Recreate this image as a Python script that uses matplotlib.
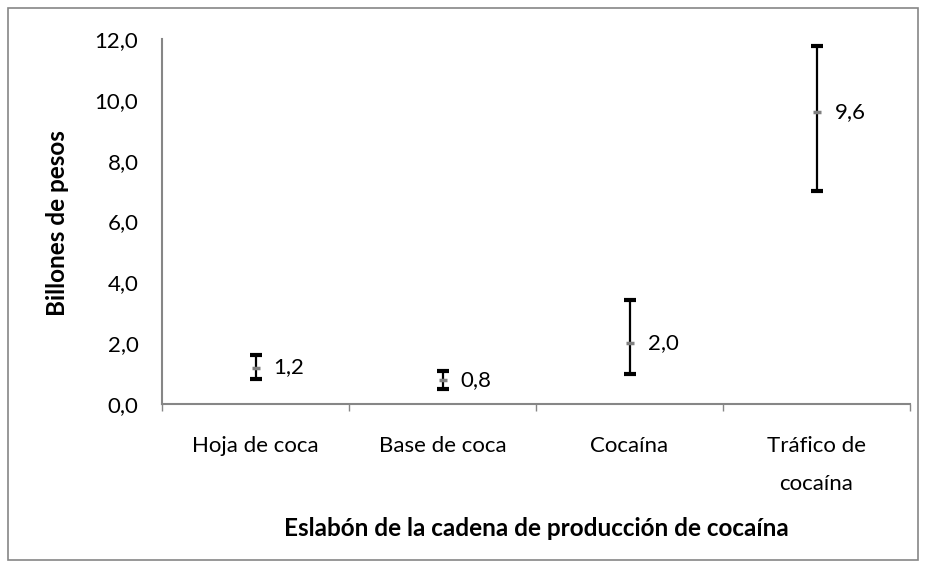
import numpy as np
import matplotlib.pyplot as plt
from matplotlib.patches import Rectangle

categorias = ["Hoja de coca", "Base de coca", "Cocaína", "Tráfico de\ncocaína"]
valores = [1.2, 0.8, 2.0, 9.6]
minimos = [0.82, 0.50, 0.99, 7.0]
maximos = [1.61, 1.09, 3.42, 11.78]
etiquetas = ["1,2", "0,8", "2,0", "9,6"]
yticks = [0, 2, 4, 6, 8, 10, 12]

plt.rcParams['font.family'] = ['Lato', 'DejaVu Sans']
fs = 16

fig = plt.figure(figsize=(9.26, 5.68), dpi=100)
ax = fig.add_axes([162/926, 1-404/568, (910-162)/926, (404-39)/568])

x = np.arange(len(categorias))
val = np.array(valores)
err = [val - np.array(minimos), np.array(maximos) - val]

ax.errorbar(x, val, yerr=err, fmt='none', ecolor='black', elinewidth=1.6,
            capsize=4.5, capthick=3)
ax.plot(x, val, linestyle='none', marker='_', markersize=6, markeredgewidth=2.5,
        color='#808080')

for xi, v, t in zip(x, val, etiquetas):
    ax.annotate(t, (xi, v), xytext=(13, 0), textcoords='offset points',
                va='center', ha='left', fontsize=fs)

ax.set_xlim(-0.5, len(categorias) - 0.5)
ax.set_ylim(0, 12)
ax.set_yticks(yticks)
ax.set_yticklabels([f"{t:.1f}".replace('.', ',') for t in yticks], fontsize=fs)
ax.tick_params(axis='y', length=0, pad=17)

ax.set_xticks(np.arange(len(categorias) + 1) - 0.5)
ax.set_xticklabels([])
ax.set_xticks(x, minor=True)
ax.set_xticklabels(categorias, minor=True, fontsize=fs, linespacing=2.1)
ax.tick_params(axis='x', which='major', length=5, color='#868686', width=1)
ax.tick_params(axis='x', which='minor', length=0, pad=23)

for s in ['top', 'right']:
    ax.spines[s].set_visible(False)
for s in ['left', 'bottom']:
    ax.spines[s].set_color('#868686')
    ax.spines[s].set_linewidth(1.5)

fig.text(58/926, 1-223/568, "Billones de pesos", rotation=90, ha='center', va='center',
         fontsize=17.5, fontweight='bold')
fig.text(536/926, 1-528/568, "Eslabón de la cadena de producción de cocaína",
         ha='center', va='center', fontsize=17.5, fontweight='bold')

fig.patches.append(Rectangle((8/926, 8/568), 910/926, 552/568, transform=fig.transFigure,
                             fill=False, edgecolor='#868686', linewidth=1.2))

fig.savefig("out.png", dpi=100)
